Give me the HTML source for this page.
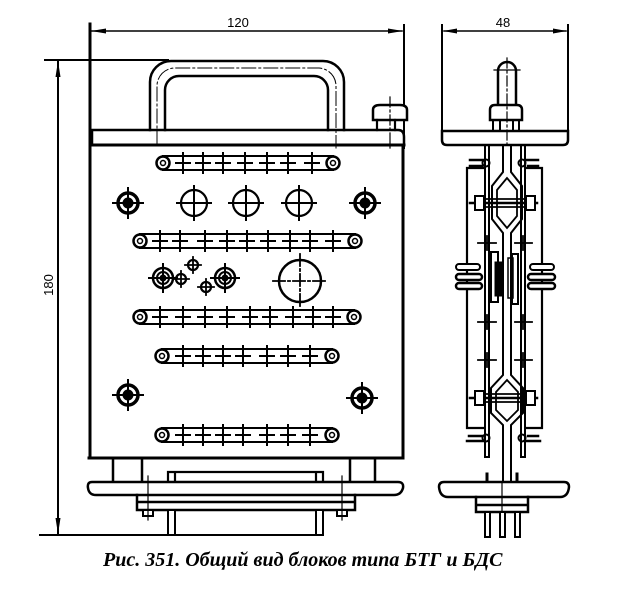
<!DOCTYPE html>
<html><head><meta charset="utf-8">
<style>
html,body{margin:0;padding:0;background:#fff;}
svg{display:block;}
.cap{font-family:"Liberation Serif",serif;font-style:italic;font-weight:bold;font-size:20px;fill:#000;}
.dim{font-family:"Liberation Sans",sans-serif;font-size:13px;fill:#000;}
</style></head>
<body>
<svg width="638" height="600" viewBox="0 0 638 600" xmlns="http://www.w3.org/2000/svg">
<defs>
<g id="strip-end">
  <circle r="6.5" fill="#fff" stroke="#000" stroke-width="2.5"/>
  <circle r="2.5" fill="none" stroke="#000" stroke-width="1.5"/>
</g>
<g id="tick">
  <line x1="0" y1="-10" x2="0" y2="10" stroke="#000" stroke-width="2"/>
  <line x1="-7" y1="0" x2="7" y2="0" stroke="#000" stroke-width="2"/>
</g>
<g id="bigscrew">
  <circle r="10" fill="#fff" stroke="#000" stroke-width="3.5"/>
  <circle r="5" fill="#000"/>
  <line x1="-15" y1="0" x2="15" y2="0" stroke="#000" stroke-width="2"/>
  <line x1="0" y1="-15" x2="0" y2="15" stroke="#000" stroke-width="2"/>
</g>
<g id="hole">
  <circle r="13" fill="none" stroke="#000" stroke-width="2.2"/>
  <line x1="-17" y1="0" x2="17" y2="0" stroke="#000" stroke-width="2"/>
  <line x1="0" y1="-17" x2="0" y2="17" stroke="#000" stroke-width="2"/>
</g>
<g id="ringscrew">
  <circle r="10" fill="none" stroke="#000" stroke-width="2.5"/>
  <circle r="6" fill="none" stroke="#000" stroke-width="2"/>
  <circle r="3" fill="#000"/>
  <line x1="-14" y1="0" x2="14" y2="0" stroke="#000" stroke-width="2"/>
  <line x1="0" y1="-14" x2="0" y2="14" stroke="#000" stroke-width="2"/>
</g>
<g id="small">
  <circle r="5" fill="none" stroke="#000" stroke-width="2.2"/>
  <line x1="-8" y1="0" x2="8" y2="0" stroke="#000" stroke-width="1.8"/>
  <line x1="0" y1="-8" x2="0" y2="8" stroke="#000" stroke-width="1.8"/>
</g>
</defs>

<g fill="none" stroke="#000" stroke-linecap="square">
<!-- ================= FRONT VIEW ================= -->
<line x1="90" y1="24" x2="90" y2="458" stroke-width="3"/>
<line x1="404" y1="25" x2="404" y2="148" stroke-width="2"/>
<line x1="92" y1="31" x2="402" y2="31" stroke-width="1.5"/>
<polygon points="91,31 106,28.5 106,33.5" fill="#000" stroke="none"/>
<polygon points="403,31 388,28.5 388,33.5" fill="#000" stroke="none"/>

<line x1="45" y1="60" x2="168" y2="60" stroke-width="2"/>
<line x1="40" y1="535" x2="323" y2="535" stroke-width="2"/>
<line x1="58" y1="60" x2="58" y2="535" stroke-width="2"/>
<polygon points="58,61 55.5,77 60.5,77" fill="#000" stroke="none"/>
<polygon points="58,534 55.5,518 60.5,518" fill="#000" stroke="none"/>

<!-- handle -->
<path d="M150,130 V82 A21,21 0 0 1 171,61 H323 A21,21 0 0 1 344,82 V130" stroke-width="2.5"/>
<path d="M165,130 V90 A14,14 0 0 1 179,76 H314 A14,14 0 0 1 328,90 V130" stroke-width="2.5"/>
<path d="M157,145 V86 A18,18 0 0 1 175,68 H319 A18,18 0 0 1 336,86 V148" stroke-width="1" stroke-dasharray="14,3,2,3"/>

<!-- knob -->
<path d="M373,120 V110 Q373,105 380,105 H400 Q407,105 407,110 V120 Z" fill="#fff" stroke-width="2.5"/>
<path d="M377,120 V130 M395,120 V130" stroke-width="2.2"/>
<line x1="390" y1="97" x2="390" y2="150" stroke-width="1.2" stroke-dasharray="10,3,2,3"/>

<path d="M92,130 H398 Q404,130 404,137 V145 H92 Z" stroke-width="2.5"/>
<path d="M90,145 H404 M403,145 V458 H89" stroke-width="3"/>

<!-- strip 1 -->
<g>
<path d="M163,156 H333 M163,170 H333" stroke-width="2"/>
<use href="#strip-end" x="163" y="163"/><use href="#strip-end" x="333" y="163"/>
<use href="#tick" x="183" y="163"/><use href="#tick" x="203" y="163"/><use href="#tick" x="223" y="163"/>
<use href="#tick" x="245" y="163"/><use href="#tick" x="267" y="163"/><use href="#tick" x="288" y="163"/>
<use href="#tick" x="312" y="163"/>
</g>
<!-- strip 2 -->
<g>
<path d="M140,234 H355 M140,248 H355" stroke-width="2"/>
<use href="#strip-end" x="140" y="241"/><use href="#strip-end" x="355" y="241"/>
<use href="#tick" x="160" y="241"/><use href="#tick" x="180" y="241"/><use href="#tick" x="205" y="241"/>
<use href="#tick" x="227" y="241"/><use href="#tick" x="247" y="241"/><use href="#tick" x="268" y="241"/>
<use href="#tick" x="290" y="241"/><use href="#tick" x="310" y="241"/><use href="#tick" x="333" y="241"/>
</g>
<!-- strip 3 -->
<g>
<path d="M140,310 H354 M140,324 H354" stroke-width="2"/>
<use href="#strip-end" x="140" y="317"/><use href="#strip-end" x="354" y="317"/>
<use href="#tick" x="160" y="317"/><use href="#tick" x="183" y="317"/><use href="#tick" x="205" y="317"/>
<use href="#tick" x="227" y="317"/><use href="#tick" x="250" y="317"/><use href="#tick" x="270" y="317"/>
<use href="#tick" x="293" y="317"/><use href="#tick" x="313" y="317"/><use href="#tick" x="333" y="317"/>
</g>
<!-- strip 4 -->
<g>
<path d="M162,349 H332 M162,363 H332" stroke-width="2"/>
<use href="#strip-end" x="162" y="356"/><use href="#strip-end" x="332" y="356"/>
<use href="#tick" x="183" y="356"/><use href="#tick" x="203" y="356"/><use href="#tick" x="223" y="356"/>
<use href="#tick" x="243" y="356"/><use href="#tick" x="267" y="356"/><use href="#tick" x="288" y="356"/>
<use href="#tick" x="310" y="356"/>
</g>
<!-- strip 5 -->
<g>
<path d="M162,428 H332 M162,442 H332" stroke-width="2"/>
<use href="#strip-end" x="162" y="435"/><use href="#strip-end" x="332" y="435"/>
<use href="#tick" x="183" y="435"/><use href="#tick" x="203" y="435"/><use href="#tick" x="223" y="435"/>
<use href="#tick" x="243" y="435"/><use href="#tick" x="267" y="435"/><use href="#tick" x="288" y="435"/>
<use href="#tick" x="310" y="435"/>
</g>

<use href="#bigscrew" x="128" y="203"/>
<use href="#hole" x="194" y="203"/>
<use href="#hole" x="246" y="203"/>
<use href="#hole" x="299" y="203"/>
<use href="#bigscrew" x="365" y="203"/>

<use href="#ringscrew" x="163" y="278"/>
<use href="#ringscrew" x="225" y="278"/>
<use href="#small" x="181" y="279"/>
<use href="#small" x="193" y="265"/>
<use href="#small" x="206" y="287"/>
<circle cx="300" cy="281" r="21" stroke-width="2.5"/>
<path d="M273,281 H327 M300,254 V308" stroke-width="1.8" stroke-dasharray="12,3,2,3"/>

<use href="#bigscrew" x="128" y="395"/>
<use href="#bigscrew" x="362" y="398"/>

<!-- bottom assembly -->
<path d="M113,458 V482 M142,458 V482 M350,458 V482 M375,458 V482" stroke-width="2.5"/>
<path d="M168,482 V472 H323 V482 M175,472 V482 M316,472 V482" stroke-width="2.2"/>
<path d="M92,482 H398 Q404,482 403,488 Q401,495 394,495 H96 Q89,495 88,488 Q87,482 92,482 Z" fill="#fff" stroke-width="2.5"/>
<path d="M137,495 V510 H355 V495 M137,502 H355" stroke-width="2.5"/>
<rect x="143" y="510" width="10" height="6" fill="#fff" stroke-width="2"/>
<rect x="337" y="510" width="10" height="6" fill="#fff" stroke-width="2"/>
<line x1="148" y1="476" x2="148" y2="520" stroke-width="1.2"/>
<line x1="342" y1="476" x2="342" y2="520" stroke-width="1.2"/>
<rect x="168" y="510" width="7" height="25" fill="#fff" stroke-width="2"/>
<rect x="316" y="510" width="7" height="25" fill="#fff" stroke-width="2"/>

<!-- ================= SIDE VIEW ================= -->
<line x1="442" y1="25" x2="442" y2="135" stroke-width="2"/>
<line x1="568" y1="25" x2="568" y2="135" stroke-width="2"/>
<line x1="444" y1="31" x2="566" y2="31" stroke-width="1.5"/>
<polygon points="443,31 457,28.5 457,33.5" fill="#000" stroke="none"/>
<polygon points="567,31 553,28.5 553,33.5" fill="#000" stroke="none"/>

<path d="M498,105 V71 A9,9 0 0 1 516,71 V105" stroke-width="2.5"/>
<path d="M490,120 V110 Q490,105 495,105 H517 Q522,105 522,110 V120 Z" fill="#fff" stroke-width="2.5"/>
<path d="M493,120 V131 M500,120 V131 M513,120 V131 M519,120 V131" stroke-width="2"/>
<line x1="507" y1="58" x2="507" y2="148" stroke-width="1.2" stroke-dasharray="10,3,2,3"/>
<line x1="494" y1="70" x2="520" y2="70" stroke-width="1.2"/>

<path d="M442,131 H568 V140 Q568,145 563,145 H447 Q442,145 442,140 Z" stroke-width="2.5"/>

<path d="M485,145 V457 M489,145 V457 M521,145 V457 M525,145 V457" stroke-width="2"/>
<path d="M487,457 H485 M523,457 H525" stroke-width="2"/>

<path d="M503,145 V172 L492,186 V219 L503,233 V375 L491,388 V413 L503,425 V482" stroke-width="2"/>
<path d="M511,145 V172 L522,186 V219 L511,233 V375 L523,388 V413 L511,425 V482" stroke-width="2"/>
<path d="M507,178 L497,190 V216 L507,228 L517,216 V190 Z" stroke-width="1.8"/>
<path d="M507,380 L496,392 V410 L507,421 L518,410 V392 Z" stroke-width="1.8"/>

<path d="M484,168 H467 V428 H484 M526,168 H542 V428 H526" stroke-width="2.2"/>

<path d="M470,160 H484 M470,166 H482" stroke-width="2.5"/>
<path d="M526,160 H538 M528,166 H538" stroke-width="2.5"/>
<circle cx="486" cy="163" r="3.5" stroke-width="2"/>
<circle cx="522" cy="163" r="3.5" stroke-width="2"/>

<path d="M470,203 H537" stroke-width="2.5"/>
<path d="M480,199 H530 M480,207 H530" stroke-width="1.8"/>
<rect x="475" y="196" width="9" height="14" fill="#fff" stroke-width="2"/>
<rect x="526" y="196" width="9" height="14" fill="#fff" stroke-width="2"/>
<path d="M470,398 H537" stroke-width="2.5"/>
<path d="M480,394 H530 M480,402 H530" stroke-width="1.8"/>
<rect x="475" y="391" width="9" height="14" fill="#fff" stroke-width="2"/>
<rect x="526" y="391" width="9" height="14" fill="#fff" stroke-width="2"/>

<path d="M478,243 H496 M487,236 V250 M515,243 H532 M523,236 V250" stroke-width="1.8"/>
<path d="M478,322 H496 M487,315 V329 M515,322 H532 M523,315 V329" stroke-width="1.8"/>
<path d="M478,360 H496 M487,353 V367 M515,360 H532 M523,353 V367" stroke-width="1.8"/>

<rect x="491" y="252" width="7" height="50" stroke-width="2"/>
<rect x="495" y="262" width="7" height="34" fill="#000" stroke-width="1"/>
<rect x="512" y="254" width="6" height="50" stroke-width="2"/>
<rect x="508" y="258" width="5" height="40" stroke-width="1.5"/>

<rect x="456" y="264" width="24" height="6" rx="3" fill="#fff" stroke-width="2"/>
<rect x="456" y="274" width="26" height="6" rx="3" fill="#fff" stroke-width="2.5"/>
<rect x="456" y="283" width="26" height="6" rx="3" fill="#fff" stroke-width="2.5"/>
<rect x="530" y="264" width="24" height="6" rx="3" fill="#fff" stroke-width="2"/>
<rect x="528" y="274" width="27" height="6" rx="3" fill="#fff" stroke-width="2.5"/>
<rect x="528" y="283" width="27" height="6" rx="3" fill="#fff" stroke-width="2.5"/>

<path d="M467,441 H484 M469,436 H482" stroke-width="2.5"/>
<path d="M526,441 H540 M528,436 H538" stroke-width="2.5"/>
<circle cx="486" cy="438" r="3.5" stroke-width="2"/>
<circle cx="522" cy="438" r="3.5" stroke-width="2"/>

<path d="M487,482 V474 M517,482 V474" stroke-width="3"/>
<path d="M444,482 H564 Q569,482 569,487 Q568,497 560,497 H448 Q440,497 439,487 Q439,482 444,482 Z" fill="#fff" stroke-width="2.5"/>
<path d="M476,497 V512 H528 V497 M476,505 H528" stroke-width="2.5"/>
<rect x="485" y="512" width="5" height="25" fill="#fff" stroke-width="2"/>
<rect x="500" y="512" width="5" height="25" fill="#fff" stroke-width="2"/>
<rect x="515" y="512" width="5" height="25" fill="#fff" stroke-width="2"/>
<line x1="502" y1="482" x2="502" y2="512" stroke-width="1.2"/>
</g>

<text class="dim" x="238" y="27" text-anchor="middle">120</text>
<text class="dim" x="503" y="27" text-anchor="middle">48</text>
<text class="dim" transform="translate(53,285) rotate(-90)" text-anchor="middle">180</text>

<text class="cap" x="103" y="566">Рис. 351. Общий вид блоков типа БТГ и БДС</text>
</svg>
</body></html>
